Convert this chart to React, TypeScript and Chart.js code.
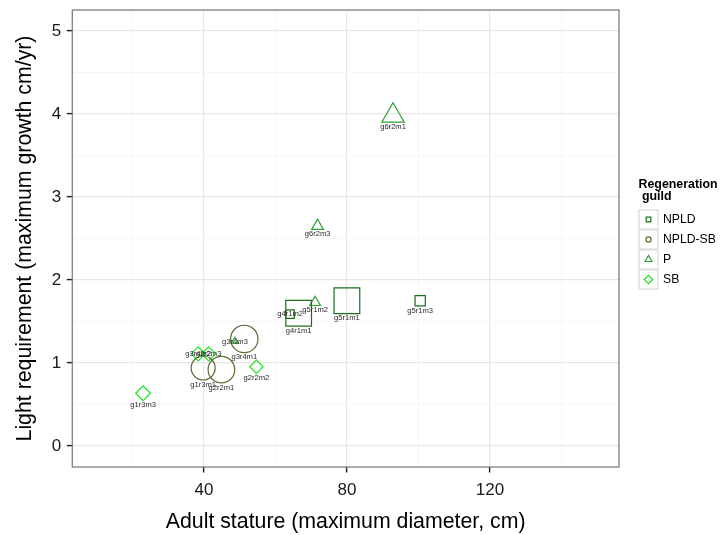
import React, { useEffect, useRef } from "react";
import { Chart, registerables } from "chart.js";

Chart.register(...registerables);

// ---- data ----
const pointLabels = [
  "g1r3m1", "g1r3m3", "g2r2m1", "g2r2m2", "g2r2m3",
  "g3r4m1", "g3r4m2", "g3r4m3", "g4r1m1", "g4r1m2",
  "g5r1m1", "g5r1m2", "g5r1m3", "g6r2m1", "g6r2m3",
];
const guildOfPoint = [
  "NPLD-SB", "SB", "NPLD-SB", "SB", "SB",
  "NPLD-SB", "SB", "P", "NPLD", "NPLD",
  "NPLD", "P", "NPLD", "P", "P",
];
const adultStature = [39.8, 23.0, 44.9, 54.7, 41.3, 51.3, 38.4, 48.7, 66.5, 64.1, 80.0, 71.1, 100.5, 92.9, 71.8];
const lightRequirement = [0.94, 0.635, 0.92, 0.955, 1.11, 1.29, 1.11, 1.26, 1.60, 1.59, 1.75, 1.73, 1.75, 3.98, 2.65];
// mapped point size (arbitrary units, as in a size aesthetic)
const pointSize = [12.0, 5.9, 13.3, 5.3, 5.6, 13.7, 5.6, 2.7, 14.5, 4.8, 14.5, 4.0, 5.8, 8.3, 4.4];
// labels that sit on top of their point instead of below it
const labelOnPoint = [false, false, false, false, true, false, true, true, false, true, false, false, false, false, false];

const guildNames = ["NPLD", "NPLD-SB", "P", "SB"];
const guildColors = ["#17701a", "#5b6a33", "#32a032", "#1ee61e"];
const guildShapes = ["rect", "circle", "triangle", "rectRot"];

const xTickValues = [20, 40, 60, 80, 100, 120, 140];
const xMajorTicks = [40, 80, 120];
const yTickValues = [0, 0.5, 1, 1.5, 2, 2.5, 3, 3.5, 4, 4.5, 5];
const yMajorTicks = [0, 1, 2, 3, 4, 5];

const xTitle = "Adult stature (maximum diameter, cm)";
const yTitle = "Light requirement (maximum growth cm/yr)";
const legendTitle = ["Regeneration", " guild"];

// ---- styling ----
const FONT = '"Liberation Sans", Arial, Helvetica, sans-serif';
const shapeRadiusFactor: Record<string, number> = { rect: 1.253, circle: 1, triangle: 1.555, rectRot: 1.253 };
const shapeBottomFactor: Record<string, number> = { rect: 0.886, circle: 1, triangle: 0.777, rectRot: 1.253 };
const W = 723;
const H = 535;
const TICK_FONT = 17;
const TITLE_FONT = 21.3;

export default function App() {
  const canvasRef = useRef<HTMLCanvasElement | null>(null);

  useEffect(() => {
    const canvas = canvasRef.current;
    if (!canvas) return;

    const groups = guildNames.map((g) =>
      guildOfPoint.map((v, i) => (v === g ? i : -1)).filter((i) => i >= 0)
    );

    const datasets = guildNames.map((g, gi) => {
      const idx = groups[gi];
      const shape = guildShapes[gi];
      return {
        label: g,
        data: idx.map((i) => ({ x: adultStature[i], y: lightRequirement[i] })),
        pointStyle: shape,
        pointRadius: idx.map((i) => pointSize[i] * shapeRadiusFactor[shape]),
        pointHoverRadius: idx.map((i) => pointSize[i] * shapeRadiusFactor[shape]),
        borderColor: guildColors[gi],
        backgroundColor: "rgba(0,0,0,0)",
        pointBorderWidth: 1.2,
        pointHoverBorderWidth: 1.2,
        showLine: false,
      };
    });

    const panelPlugin = {
      id: "panelBorder",
      afterDatasetsDraw(chart: any) {
        const { ctx, chartArea } = chart;
        // point labels
        ctx.save();
        ctx.font = `7.6px ${FONT}`;
        ctx.fillStyle = "#2b2b2b";
        ctx.textAlign = "center";
        ctx.textBaseline = "middle";
        groups.forEach((idx, gi) => {
          const meta = chart.getDatasetMeta(gi);
          const shape = guildShapes[gi];
          idx.forEach((pi, j) => {
            const el = meta.data[j];
            const off = labelOnPoint[pi] ? 0 : pointSize[pi] * shapeBottomFactor[shape] + 4.6;
            ctx.fillText(pointLabels[pi], el.x, el.y + off);
          });
        });
        ctx.restore();
        // panel border
        ctx.save();
        ctx.strokeStyle = "#7f7f7f";
        ctx.lineWidth = 1.3;
        ctx.strokeRect(chartArea.left, chartArea.top, chartArea.right - chartArea.left, chartArea.bottom - chartArea.top);
        ctx.restore();
      },
      afterDraw(chart: any) {
        const { ctx, chartArea } = chart;
        ctx.save();
        const lx = chartArea.right + 19.5;
        ctx.fillStyle = "#000";
        ctx.font = `bold 12.4px ${FONT}`;
        ctx.textAlign = "left";
        ctx.textBaseline = "middle";
        ctx.fillText(legendTitle[0], lx, 185);
        ctx.fillText(legendTitle[1], lx, 197);
        const keySize = 20;
        const top0 = 209.5;
        guildNames.forEach((g, gi) => {
          const ky = top0 + gi * keySize;
          ctx.fillStyle = "#ffffff";
          ctx.fillRect(lx, ky, keySize, keySize);
          ctx.strokeStyle = "#d2d2d2";
          ctx.lineWidth = 1;
          ctx.strokeRect(lx + 0.5, ky + 0.5, keySize - 1, keySize - 1);
          const cx = lx + keySize / 2;
          const cy = ky + keySize / 2;
          const shape = guildShapes[gi];
          const base = gi === 3 ? 3.4 : 2.6;
          ctx.strokeStyle = guildColors[gi];
          ctx.lineWidth = 1.2;
          ctx.beginPath();
          if (shape === "rect") {
            const h = base * 0.886;
            ctx.rect(cx - h, cy - h, 2 * h, 2 * h);
          } else if (shape === "circle") {
            ctx.arc(cx, cy, base, 0, Math.PI * 2);
          } else if (shape === "triangle") {
            const r = base * 1.555;
            ctx.moveTo(cx, cy - r);
            ctx.lineTo(cx + r * Math.sin((2 * Math.PI) / 3), cy - r * Math.cos((2 * Math.PI) / 3));
            ctx.lineTo(cx + r * Math.sin((4 * Math.PI) / 3), cy - r * Math.cos((4 * Math.PI) / 3));
            ctx.closePath();
          } else {
            const r = base * 1.253;
            ctx.moveTo(cx - r, cy);
            ctx.lineTo(cx, cy - r);
            ctx.lineTo(cx + r, cy);
            ctx.lineTo(cx, cy + r);
            ctx.closePath();
          }
          ctx.stroke();
          ctx.fillStyle = "#000";
          ctx.font = `12.2px ${FONT}`;
          ctx.fillText(g, lx + keySize + 4.5, cy + 0.5);
        });
        ctx.restore();
      },
    };

    const isMajorX = (v: number) => xMajorTicks.includes(v);
    const isMajorY = (v: number) => yMajorTicks.includes(v);

    const chart = new Chart(canvas, {
      type: "scatter",
      data: { datasets: datasets as any },
      plugins: [panelPlugin],
      options: {
        responsive: false,
        animation: false,
        events: [],
        layout: { autoPadding: false, padding: { top: 10, right: 104, bottom: 0, left: 0 } },
        plugins: { legend: { display: false }, tooltip: { enabled: false } },
        scales: {
          x: {
            type: "linear",
            min: 3.2,
            max: 156.1,
            afterBuildTicks: (s: any) => {
              s.ticks = xTickValues.map((v) => ({ value: v }));
            },
            afterFit: (s: any) => {
              s.height = 68;
              s.paddingLeft = 0;
              s.paddingRight = 0;
            },
            border: { display: false },
            grid: {
              color: (c: any) => (isMajorX(c.tick?.value) ? "#e6e6e6" : "#f6f6f6"),
              lineWidth: (c: any) => (isMajorX(c.tick?.value) ? 1.2 : 1),
              tickColor: (c: any) => (isMajorX(c.tick?.value) ? "#1a1a1a" : "rgba(0,0,0,0)"),
              tickLength: 5.5,
              tickWidth: 1.4,
            },
            ticks: {
              autoSkip: false,
              maxRotation: 0,
              padding: 8,
              color: "#1a1a1a",
              font: { family: FONT, size: TICK_FONT },
              callback: (v: any) => (isMajorX(Number(v)) ? String(v) : ""),
            },
            title: {
              display: true,
              text: xTitle,
              color: "#000",
              font: { family: FONT, size: TITLE_FONT },
              padding: { top: 0, bottom: 0 },
            },
          },
          y: {
            type: "linear",
            min: -0.253,
            max: 5.253,
            afterBuildTicks: (s: any) => {
              s.ticks = yTickValues.map((v) => ({ value: v }));
            },
            afterFit: (s: any) => {
              s.width = 72.3;
              s.paddingTop = 0;
              s.paddingBottom = 0;
            },
            border: { display: false },
            grid: {
              color: (c: any) => (isMajorY(c.tick?.value) ? "#e6e6e6" : "#f6f6f6"),
              lineWidth: (c: any) => (isMajorY(c.tick?.value) ? 1.2 : 1),
              tickColor: (c: any) => (isMajorY(c.tick?.value) ? "#1a1a1a" : "rgba(0,0,0,0)"),
              tickLength: 5.5,
              tickWidth: 1.4,
            },
            ticks: {
              autoSkip: false,
              padding: 5.5,
              color: "#1a1a1a",
              font: { family: FONT, size: TICK_FONT },
              callback: (v: any) => (isMajorY(Number(v)) ? String(v) : ""),
            },
            title: {
              display: true,
              text: yTitle,
              color: "#000",
              font: { family: FONT, size: TITLE_FONT },
              padding: { top: 12, bottom: 0 },
            },
          },
        },
      },
    } as any);

    return () => {
      chart.destroy();
    };
  }, []);

  return (
    <div style={{ position: "fixed", left: 0, top: 0, width: W, height: H, background: "#fff" }}>
      <canvas ref={canvasRef} width={W} height={H} style={{ width: W, height: H, display: "block" }} />
    </div>
  );
}
